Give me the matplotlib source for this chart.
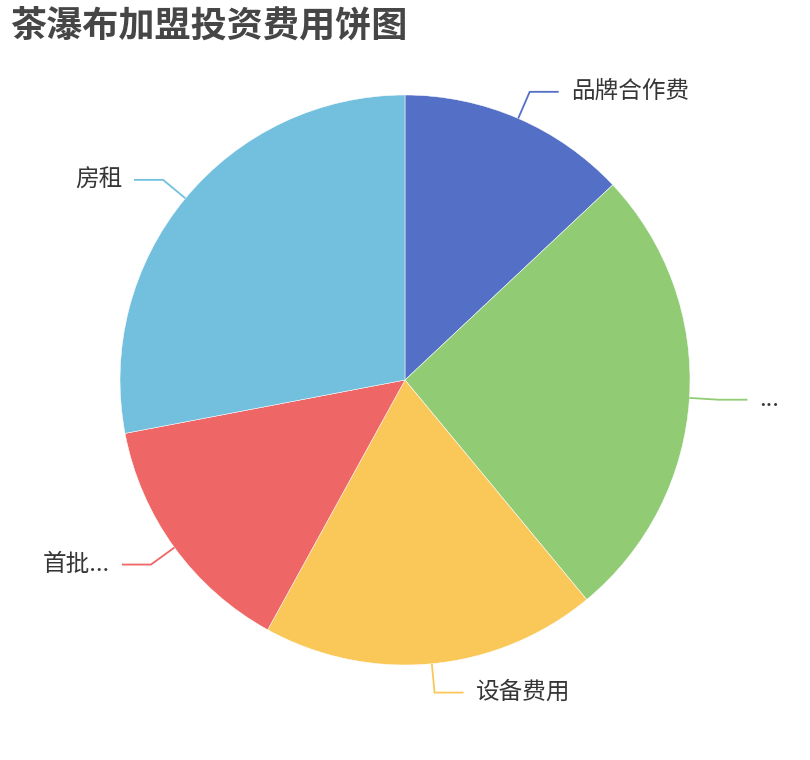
import numpy as np
import matplotlib
matplotlib.use("Agg")
import matplotlib.pyplot as plt

plt.rcParams['font.family'] = ['Noto Sans CJK SC', 'DejaVu Sans']

title = "茶瀑布加盟投资费用饼图"
labels = ["品牌合作费", "...", "设备费用", "首批...", "房租"]
values = [13, 26, 19, 14, 28]
colors = ["#5470c6", "#91cc75", "#fac858", "#ee6666", "#73c0de"]

W, H = 810, 760
fig = plt.figure(figsize=(W / 100, H / 100), dpi=100)
ax = fig.add_axes([0, 0, 1, 1])

cx, cy, R = 405, 380, 285
wedges, _ = ax.pie(values, colors=colors, startangle=90, counterclock=False,
                   center=(cx, cy), radius=R, frame=True,
                   wedgeprops=dict(edgecolor='white', linewidth=0.35))
ax.set_xlim(0, W)
ax.set_ylim(0, H)
ax.set_aspect('equal')
ax.axis('off')

L1, L2, gap = 29, 29, 12
for w, lab, col in zip(wedges, labels, colors):
    mid = np.deg2rad((w.theta1 + w.theta2) / 2)
    dx, dy = np.cos(mid), np.sin(mid)
    x0, y0 = cx + R * dx, cy + R * dy
    x1, y1 = cx + (R + L1) * dx, cy + (R + L1) * dy
    s = 1 if dx >= 0 else -1
    x2 = x1 + s * L2
    ax.plot([x0, x1, x2], [y0, y1, y1], color=col, lw=1.3, solid_capstyle='butt')
    ax.text(x2 + s * gap, y1, lab, ha='left' if s > 0 else 'right', va='center',
            fontsize=17, color='#363636')

fig.text(10 / W, 1 - 26 / H, title, fontsize=26, fontweight='bold',
         color='#464646', ha='left', va='center')

fig.savefig("out.png", dpi=100, facecolor='white')
